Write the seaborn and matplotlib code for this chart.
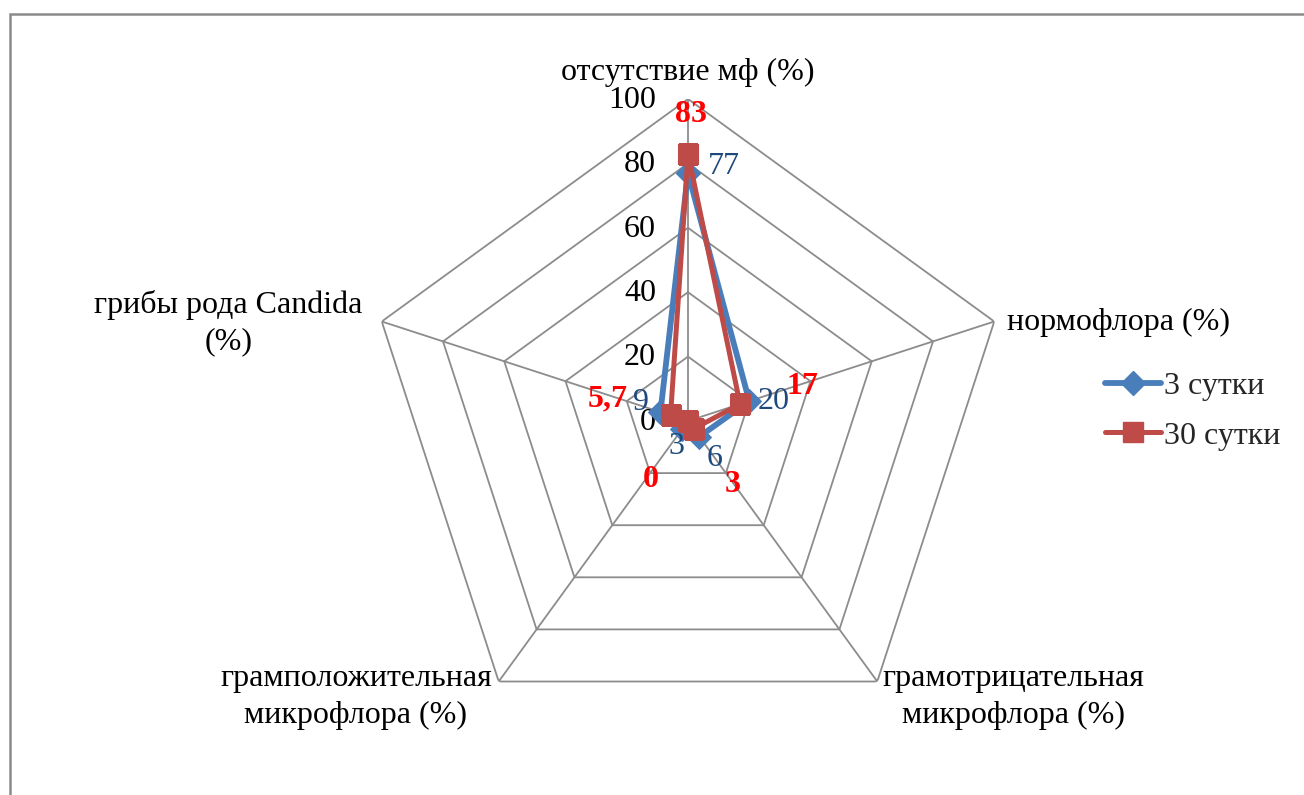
import numpy as np
import pandas as pd
import matplotlib
matplotlib.use("Agg")
import matplotlib.pyplot as plt
from matplotlib.patches import Rectangle
from matplotlib.lines import Line2D
import seaborn as sns

# ---- data -------------------------------------------------------------
categories = [
    "отсутствие мф (%)",
    "нормофлора (%)",
    "грамотрицательная\nмикрофлора (%)",
    "грамположительная\nмикрофлора (%)",
    "грибы рода Candida\n(%)",
]
series_names = ["3 сутки", "30 сутки"]
values_3 = [77, 20, 6, 3, 9]
values_30 = [83, 17, 3, 0, 5.7]
labels_3 = ["77", "20", "6", "3", "9"]
labels_30 = ["83", "17", "3", "0", "5,7"]
ring_levels = [0, 20, 40, 60, 80, 100]

# ---- style ------------------------------------------------------------
sns.set_theme(style="white")
plt.rcParams["font.family"] = ["Liberation Serif", "DejaVu Serif"]

BLUE = "#4A7EBB"
RED = "#BE4B48"
GRID = "#8C8C8C"
FS = 23

fig = plt.figure(figsize=(13.04, 7.95), dpi=100)
W, H = 1304, 795
cx, cy, R = 688, 421, 322
ax = fig.add_axes([(cx - R) / W, (H - cy - R) / H, 2 * R / W, 2 * R / H],
                  projection="polar")
ax.set_theta_offset(np.pi / 2)
ax.set_theta_direction(-1)
ax.set_ylim(0, 100)
ax.grid(False)
ax.spines["polar"].set_visible(False)
ax.set_xticks([])
ax.set_yticks([])
ax.patch.set_alpha(0)

n = len(categories)
theta = np.arange(n) * 2 * np.pi / n
theta_closed = np.append(theta, 2 * np.pi)

# pentagonal rings and spokes
for lvl in ring_levels[1:]:
    ax.plot(theta_closed, [lvl] * (n + 1), color=GRID, lw=1.3, zorder=1)
for t in theta:
    ax.plot([t, t], [0, 100], color=GRID, lw=1.3, zorder=1)

# radial tick labels along the top spoke
for lvl in ring_levels:
    ax.annotate(str(lvl), xy=(0, lvl), xytext=(-23, -1), textcoords="offset points",
                ha="right", va="center", fontsize=FS, color="black")

# category labels
cat_offsets = [(0, 19), (9, -1), (4, -11), (-5, -11), (-14, -1)]
cat_ha = ["center", "left", "left", "right", "right"]
cat_align = ["center", "left", "center", "center", "center"]
for t, c, off, ha, ma in zip(theta, categories, cat_offsets, cat_ha, cat_align):
    ax.annotate(c, xy=(t, 100), xytext=off, textcoords="offset points",
                ha=ha, va="center", multialignment=ma, fontsize=FS, color="black",
                linespacing=1.35)

# series
df = pd.DataFrame({
    "theta": np.concatenate([theta_closed, theta_closed]),
    "value": values_3 + values_3[:1] + values_30 + values_30[:1],
    "series": [series_names[0]] * (n + 1) + [series_names[1]] * (n + 1),
})
sns.lineplot(data=df[df.series == series_names[0]], x="theta", y="value",
             sort=False, estimator=None, color=BLUE, lw=4.2, marker="D",
             markersize=12, markeredgecolor=BLUE, ax=ax, zorder=3, legend=False)
sns.lineplot(data=df[df.series == series_names[1]], x="theta", y="value",
             sort=False, estimator=None, color=RED, lw=3.6, marker="s",
             markersize=14, markeredgecolor=RED, ax=ax, zorder=4, legend=False)
ax.set_xlabel("")
ax.set_ylabel("")
ax.set_ylim(0, 100)

# value labels
off_3 = [(14, 5), (6, 0), (11, -16), (-4, -13), (-14, 7)]
ha_3 = ["left", "left", "center", "center", "center"]
for t, v, s, off, ha in zip(theta, values_3, labels_3, off_3, ha_3):
    ax.annotate(s, xy=(t, v), xytext=off, textcoords="offset points",
                ha=ha, va="center", fontsize=FS, color="#1F497D", zorder=6)
off_30 = [(2, 28), (45, 13), (28, -40), (-27, -42), (-45, 12)]
for t, v, s, off in zip(theta, values_30, labels_30, off_30):
    ax.annotate(s, xy=(t, v), xytext=off, textcoords="offset points",
                ha="center", va="center", fontsize=FS, fontweight="bold",
                color="#FF0000", zorder=6)

# legend
handles = [
    Line2D([], [], color=BLUE, lw=4.2, marker="D", markersize=12, markeredgecolor=BLUE),
    Line2D([], [], color=RED, lw=3.6, marker="s", markersize=14, markeredgecolor=RED),
]
fig.legend(handles, series_names, loc="upper left",
           bbox_to_anchor=(1105 / W, 1 - 372 / H), frameon=False,
           borderpad=0, borderaxespad=0,
           fontsize=FS, handlelength=1.75, handletextpad=0.1, labelspacing=0.62)

# outer frame (extends past the right and bottom edges)
fig.patches.append(Rectangle((10 / W, -0.05), 1.2, 1 - 14 / H + 0.05,
                             transform=fig.transFigure, fill=False,
                             edgecolor="#8A8A8A", lw=1.8))

fig.savefig("out.png", dpi=100, facecolor="white")
